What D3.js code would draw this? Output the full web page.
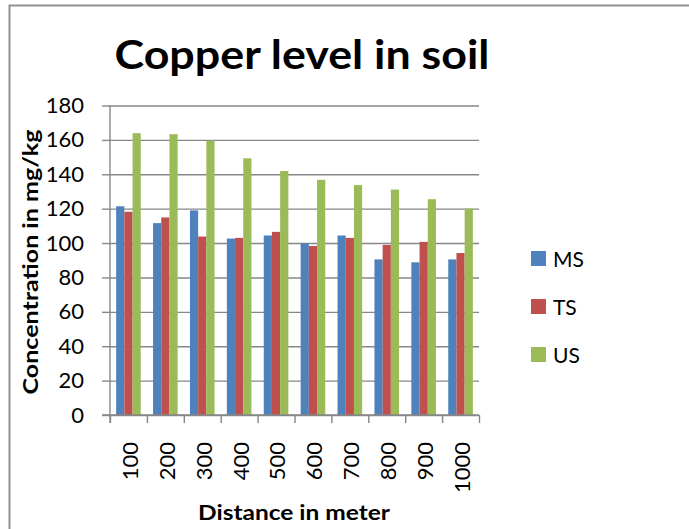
<!DOCTYPE html>
<html>
<head>
<meta charset="utf-8">
<script src="https://cdn.jsdelivr.net/npm/d3@7"></script>
<style>
  html, body { margin: 0; padding: 0; background: #fff; }
  svg { display: block; font-family: Lato, "Open Sans", sans-serif; }
</style>
</head>
<body>
<svg id="chart" width="689" height="529"></svg>
<script>
// Copper concentration (mg/kg) by distance from source, three sampling sites
const categories = ["100", "200", "300", "400", "500", "600", "700", "800", "900", "1000"];
const seriesNames = ["MS", "TS", "US"];
const msValues = [121.4, 111.6, 119.0, 102.6, 104.4, 99.7, 104.4, 90.5, 88.8, 90.5];
const tsValues = [118.2, 114.9, 103.8, 103.0, 106.5, 98.3, 103.0, 98.9, 100.7, 94.2];
const usValues = [163.9, 163.3, 159.6, 149.3, 141.9, 136.8, 133.7, 131.1, 125.5, 120.0];
const yTicks = [0, 20, 40, 60, 80, 100, 120, 140, 160, 180];
const colors = ["#4F81BD", "#C0504D", "#9BBB59"];

const seriesValues = [msValues, tsValues, usValues];
const rows = categories.map((c, i) => ({
  category: c,
  values: seriesNames.map((s, k) => ({ series: s, value: seriesValues[k][i], color: colors[k] }))
}));

const svg = d3.select("#chart");
const gridColor = "#878787";

// outer frame (left and top edges)
svg.append("path")
  .attr("d", "M9.5,529 V5.5 H689")
  .attr("fill", "none")
  .attr("stroke", "#8f8f8f")
  .attr("stroke-width", 2);

const plot = { left: 110, right: 479, top: 105.5, bottom: 415 };

const x0 = d3.scaleBand().domain(categories).range([plot.left, plot.right]).padding(0);
const x1 = d3.scaleBand().domain(seriesNames).range([0, x0.bandwidth()])
  .paddingInner(0).paddingOuter(0.75);
const y = d3.scaleLinear().domain([0, 180]).range([plot.bottom, plot.top]);

// horizontal gridlines
const grid = svg.append("g")
  .attr("transform", `translate(${plot.left},0)`)
  .call(d3.axisRight(y).tickValues(yTicks).tickSize(plot.right - plot.left).tickFormat(""));
grid.select(".domain").remove();
grid.selectAll("line").attr("stroke", gridColor).attr("stroke-width", 1.4);

// bars
const groups = svg.append("g").selectAll("g")
  .data(rows).join("g")
  .attr("transform", d => `translate(${x0(d.category)},0)`);
groups.selectAll("rect")
  .data(d => d.values).join("rect")
  .attr("x", d => x1(d.series))
  .attr("y", d => y(d.value))
  .attr("width", x1.bandwidth())
  .attr("height", d => y(0) - y(d.value))
  .attr("fill", d => d.color);

// y axis
const yAxis = svg.append("g")
  .attr("transform", `translate(${plot.left},0)`)
  .call(d3.axisLeft(y).tickValues(yTicks).tickSize(8).tickPadding(18).tickSizeOuter(0));
yAxis.select(".domain").attr("stroke", gridColor).attr("stroke-width", 1.4)
  .attr("d", `M0,${plot.top}V${plot.bottom + 8}`);
yAxis.selectAll("line").attr("stroke", gridColor).attr("stroke-width", 1.4);
yAxis.selectAll("text").attr("font-size", 22).attr("fill", "#000")
  .attr("font-family", "Lato, 'Open Sans', sans-serif");

// x axis: tick marks on category boundaries
const xEdges = d3.scaleLinear().domain([0, categories.length]).range([plot.left, plot.right]);
const xAxis = svg.append("g")
  .attr("transform", `translate(0,${plot.bottom})`)
  .call(d3.axisBottom(xEdges).ticks(categories.length).tickSize(8).tickFormat("").tickSizeOuter(0));
xAxis.select(".domain").attr("stroke", gridColor).attr("stroke-width", 1.4)
  .attr("d", `M${plot.left - 8},0H${plot.right}`);
xAxis.selectAll("line").attr("stroke", gridColor).attr("stroke-width", 1.4);

// x category labels, rotated
const xLabels = svg.append("g")
  .attr("transform", `translate(0,${plot.bottom})`)
  .call(d3.axisBottom(x0).tickSize(0).tickPadding(0));
xLabels.select(".domain").remove();
xLabels.selectAll("text")
  .attr("font-size", 22).attr("fill", "#000")
  .attr("font-family", "Lato, 'Open Sans', sans-serif")
  .attr("text-anchor", "end")
  .attr("x", 0).attr("y", 0).attr("dy", "0.36em")
  .attr("transform", "translate(1.5,27) rotate(-90)");

// title
svg.append("text")
  .attr("x", 302).attr("y", 69)
  .attr("text-anchor", "middle")
  .attr("font-size", 40).attr("font-weight", "bold")
  .attr("textLength", 375).attr("lengthAdjust", "spacingAndGlyphs")
  .text("Copper level in soil");

// axis titles
svg.append("text")
  .attr("transform", "translate(38,262) rotate(-90)")
  .attr("text-anchor", "middle")
  .attr("font-size", 20).attr("font-weight", "bold")
  .attr("textLength", 265).attr("lengthAdjust", "spacingAndGlyphs")
  .text("Concentration in mg/kg");

svg.append("text")
  .attr("x", 294).attr("y", 520)
  .attr("text-anchor", "middle")
  .attr("font-size", 20).attr("font-weight", "bold")
  .attr("textLength", 192).attr("lengthAdjust", "spacingAndGlyphs")
  .text("Distance in meter");

// legend
const legend = svg.append("g").selectAll("g")
  .data(seriesNames).join("g")
  .attr("transform", (d, i) => `translate(531,${251 + i * 48})`);
legend.append("rect")
  .attr("width", 15).attr("height", 15)
  .attr("fill", (d, i) => colors[i]);
legend.append("text")
  .attr("x", 22).attr("y", 16)
  .attr("font-size", 21)
  .text(d => d);
</script>
</body>
</html>
